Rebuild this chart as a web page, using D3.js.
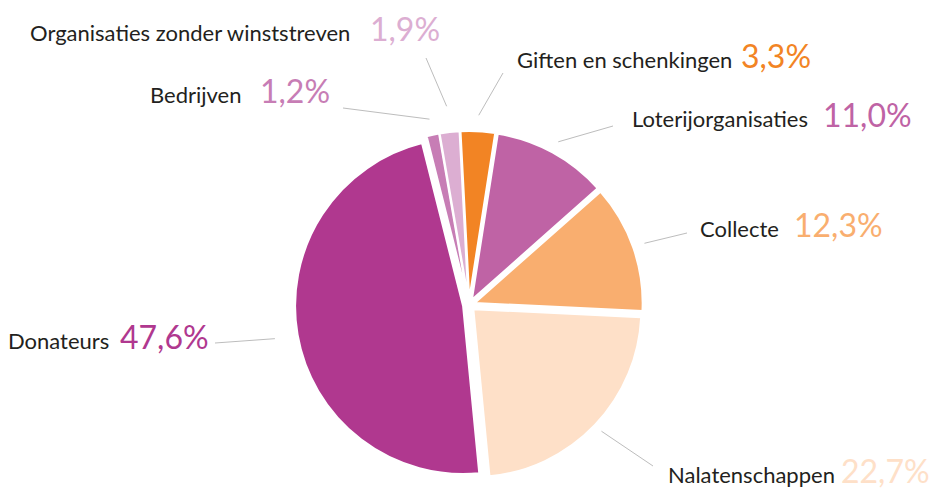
<!DOCTYPE html>
<html>
<head>
<meta charset="utf-8">
<script src="https://cdn.jsdelivr.net/npm/d3@7"></script>
<style>
  body { margin: 0; background: #fff; }
  svg { display: block; }
  .name { font-family: Lato, "Open Sans", sans-serif; fill: #231f20; }
  .pct { font-family: Lato, "Open Sans", sans-serif; font-weight: 400; }
</style>
</head>
<body>
<svg id="pieSvg" width="937" height="490"></svg>
<script>
// clockwise from the top
const categories = ["Giften en schenkingen", "Loterijorganisaties", "Collecte", "Nalatenschappen",
    "Donateurs", "Bedrijven", "Organisaties zonder winststreven"];
const shares = [3.3, 11.0, 12.3, 22.7, 47.6, 1.2, 1.9];
const colors = ["#f28424", "#bf63a5", "#f9ae6f", "#fee0c8", "#b0388f", "#c77db5", "#dcaed2"];

// name start, percentage start, baseline, leader line outer end, leader inner radius
const labelLayout = [
    { x: 517, px: 741, y: 68, lx: 503, ly: 73, r: 190 },
    { x: 632, px: 823, y: 127, lx: 613, ly: 126, r: 186 },
    { x: 700, px: 794, y: 237, lx: 687, ly: 233, r: 186 },
    { x: 668, px: 841, y: 483, lx: 653, ly: 466, r: 183 },
    { x: 8, px: 120, y: 349, lx: 215, ly: 343, r: 197 },
    { x: 150, px: 260, y: 103, lx: 343, ly: 108, r: 190 },
    { x: 30, px: 370, y: 41, lx: 426, ly: 58, r: 200 }
];

const svg = d3.select("#pieSvg");
const cx = 469, cy = 305, radius = 168, explode = 6;

const nl = d3.formatLocale({ decimal: ",", thousands: ".", grouping: [3], currency: ["€", ""] });
const fmt = nl.format(".1f");

const pie = d3.pie()
    .sort(null)
    .value(d => d)
    .startAngle(-3 * Math.PI / 180)
    .endAngle((360 - 3) * Math.PI / 180);

const arcs = pie(shares);
const arc = d3.arc().innerRadius(0).outerRadius(radius);
const mid = d => (d.startAngle + d.endAngle) / 2;

const g = svg.append("g").attr("transform", `translate(${cx},${cy})`);

g.selectAll(".slice")
    .data(arcs)
    .enter()
    .append("path")
    .attr("class", "slice")
    .attr("d", arc)
    .attr("fill", (d, i) => colors[i])
    .attr("stroke", "#fff")
    .attr("stroke-width", 2)
    .attr("transform", d => `translate(${explode * Math.sin(mid(d))},${-explode * Math.cos(mid(d))})`);

// leader lines
g.selectAll(".leader")
    .data(arcs)
    .enter()
    .append("line")
    .attr("class", "leader")
    .attr("x1", (d, i) => labelLayout[i].r * Math.sin(mid(d)))
    .attr("y1", (d, i) => -labelLayout[i].r * Math.cos(mid(d)))
    .attr("x2", (d, i) => labelLayout[i].lx - cx)
    .attr("y2", (d, i) => labelLayout[i].ly - cy)
    .attr("stroke", "#bdbdbd")
    .attr("stroke-width", 1);

const labels = svg.selectAll(".label")
    .data(arcs)
    .enter()
    .append("text")
    .attr("class", "label")
    .attr("y", (d, i) => labelLayout[i].y);

labels.append("tspan")
    .attr("class", "name")
    .attr("x", (d, i) => labelLayout[i].x)
    .style("font-size", "22px")
    .text((d, i) => categories[i]);

labels.append("tspan")
    .attr("class", "pct")
    .attr("x", (d, i) => labelLayout[i].px)
    .style("font-size", "32px")
    .attr("fill", (d, i) => colors[i])
    .text(d => fmt(d.data) + "%");
</script>
</body>
</html>
